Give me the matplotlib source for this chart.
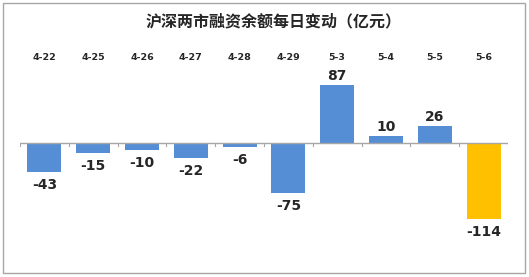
import matplotlib.pyplot as plt
from matplotlib.patches import Rectangle

plt.rcParams['font.family'] = ['Noto Sans CJK SC', 'DejaVu Sans']

dates = ['4-22', '4-25', '4-26', '4-27', '4-28', '4-29', '5-3', '5-4', '5-5', '5-6']
changes = [-43, -15, -10, -22, -6, -75, 87, 10, 26, -114]
colors = ['#558ED5'] * 9 + ['#FFC000']

W, H = 529, 277
fig = plt.figure(figsize=(W / 100, H / 100), dpi=100)
fig.patches.append(Rectangle((3 / W, 4 / H), 522 / W, 270 / H, transform=fig.transFigure,
                             fill=False, edgecolor='#A6A6A6', linewidth=1))

# axes: x 20..508 px, y 70..250 px (from top)
ax = fig.add_axes([20 / W, 1 - 250 / H, 488 / W, 180 / H])
x = list(range(len(dates)))
ax.bar(x, changes, width=0.7, color=colors)
ax.set_xlim(-0.5, len(dates) - 0.5)
ax.set_ylim(-160.9, 109.8)
ax.axhline(0, color='#A6A6A6', linewidth=1)
for b in [i - 0.5 for i in range(len(dates) + 1)]:
    ax.plot([b, b], [0, -4], color='#A6A6A6', linewidth=0.8)
ax.axis('off')

for i, v in enumerate(changes):
    if v >= 0:
        ax.text(i, v + 3, str(v), ha='center', va='bottom', fontsize=10,
                fontweight='bold', color='#262626', family='DejaVu Sans')
    else:
        ax.text(i, v - 9, str(v), ha='center', va='top', fontsize=10,
                fontweight='bold', color='#262626', family='DejaVu Sans')
    fig.text((20 + 488 * (i + 0.5) / len(dates)) / W, 1 - 58 / H, dates[i],
             ha='center', va='center', fontsize=6.8, fontweight='bold', color='#262626',
             family='DejaVu Sans')

fig.text(274 / W, 1 - 21 / H, '沪深两市融资余额每日变动（亿元）', ha='center', va='center',
         fontsize=11.5, fontweight='bold', color='#262626')

fig.savefig('out.png', dpi=100)
